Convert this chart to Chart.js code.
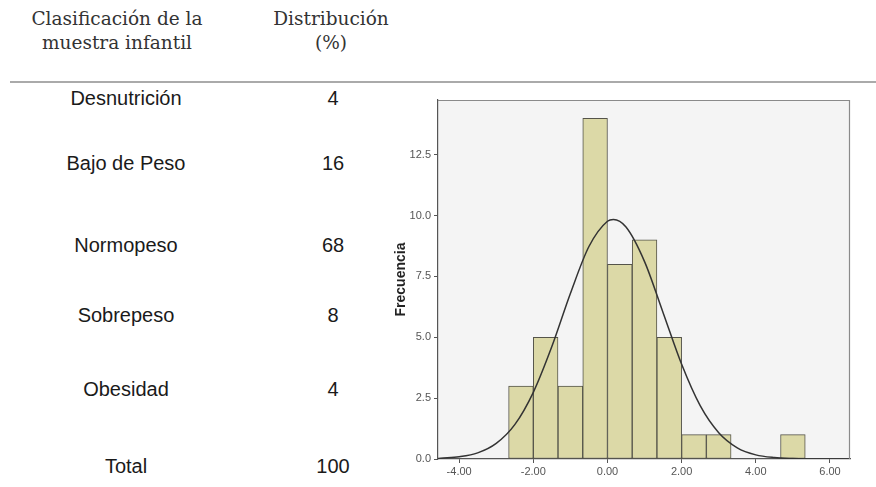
<!DOCTYPE html>
<html><head><meta charset="utf-8">
<script src="https://cdn.jsdelivr.net/npm/chart.js@4/dist/chart.umd.min.js"></script>
<style>
body{margin:0;width:876px;height:487px;background:#fff;position:relative;overflow:hidden;font-family:"Liberation Sans",Arial,sans-serif;}
.t{position:absolute;transform:translate(-50%,-50%);white-space:nowrap;color:#111;line-height:1;}
.h{font-family:"DejaVu Serif",serif;font-size:18.5px;color:#333;}
.r{font-size:20px;color:#1a1a1a;}
#rule{position:absolute;left:10px;top:81px;width:866px;height:2px;background:#aaa;}
#wrap{position:absolute;left:380px;top:85px;width:490px;height:402px;}
</style></head><body>
<div id="table"></div>
<div id="rule"></div>
<div id="wrap"><canvas id="c" width="490" height="402"></canvas></div>
<script>
// ---- data ----
const headerCol1 = ['Clasificación de la', 'muestra infantil'];
const headerCol2 = ['Distribución', '(%)'];
const tableCategories = ['Desnutrición', 'Bajo de Peso', 'Normopeso', 'Sobrepeso', 'Obesidad', 'Total'];
const tableValues = [4, 16, 68, 8, 4, 100];

const binCenters = [-2.333, -1.667, -1.0, -0.333, 0.333, 1.0, 1.667, 2.333, 3.0, 3.667, 4.333, 5.0];
const frequencies = [3, 5, 3, 14, 8, 9, 5, 1, 1, 0, 0, 1];

const curveX = [-4.57, -4.5, -4, -3.5, -3, -2.5, -2, -1.5, -1, -0.5, 0, 0.16, 0.5, 1, 1.5, 2, 2.5, 3, 3.5, 4, 4.5, 5, 5.5, 6, 6.54];
const curveY = [0.02, 0.03, 0.09, 0.25, 0.64, 1.41, 2.74, 4.62, 6.80, 8.73, 9.77, 9.84, 9.53, 8.11, 6.01, 3.89, 2.19, 1.08, 0.46, 0.17, 0.06, 0.02, 0.0, 0.0, 0.0];

const xTicks = [-4, -2, 0, 2, 4, 6];
const yTicks = [0, 2.5, 5, 7.5, 10, 12.5];
const yTitle = 'Frecuencia';

// ---- layout (table) ----
const col1X = 126, col2X = 333, hCol1X = 117, hCol2X = 331;
const headerY = [19, 43];
const rowY = [98, 163, 245, 315, 389, 466];
const tbl = document.getElementById('table');
function addText(txt, x, y, cls) {
  const d = document.createElement('div');
  d.className = 't ' + cls; d.textContent = txt;
  d.style.left = x + 'px'; d.style.top = y + 'px';
  tbl.appendChild(d);
}
headerCol1.forEach((s, i) => addText(s, hCol1X, headerY[i], 'h'));
headerCol2.forEach((s, i) => addText(s, hCol2X, headerY[i], 'h'));
tableCategories.forEach((s, i) => { addText(s, col1X, rowY[i], 'r'); addText(String(tableValues[i]), col2X, rowY[i], 'r'); });

// ---- chart ----
const boxPlugin = {
  id: 'box',
  beforeDraw(c) {
    const a = c.chartArea, ctx = c.ctx;
    ctx.save(); ctx.fillStyle = '#f4f4f4';
    ctx.fillRect(a.left, a.top, a.right - a.left, a.bottom - a.top); ctx.restore();
  },
  afterDraw(c) {
    const a = c.chartArea, ctx = c.ctx;
    ctx.save(); ctx.strokeStyle = '#8a8a8a'; ctx.lineWidth = 1.2;
    ctx.beginPath();
    ctx.moveTo(a.left, a.top + 0.5); ctx.lineTo(a.right - 0.5, a.top + 0.5); ctx.lineTo(a.right - 0.5, a.bottom);
    ctx.stroke(); ctx.restore();
  }
};
const tickFont = { family: '"Liberation Sans", Arial, sans-serif', size: 11 };
new Chart(document.getElementById('c'), {
  type: 'bar',
  data: {
    datasets: [
      {
        type: 'line', order: 0,
        data: curveX.map((x, i) => ({ x: x, y: curveY[i] })),
        borderColor: '#333', borderWidth: 1.5, pointRadius: 0, fill: false,
        cubicInterpolationMode: 'monotone'
      },
      {
        type: 'bar', order: 1,
        data: binCenters.map((x, i) => ({ x: x, y: frequencies[i] })),
        backgroundColor: '#dcd9a7', borderColor: '#55544a', borderWidth: 1,
        borderSkipped: false, barPercentage: 1, categoryPercentage: 1
      }
    ]
  },
  options: {
    responsive: false, animation: false, devicePixelRatio: 1,
    layout: { padding: { top: 15, right: 20, left: 0, bottom: 0 } },
    plugins: { legend: { display: false }, tooltip: { enabled: false } },
    scales: {
      x: {
        type: 'linear', min: -4.57, max: 6.54, offset: false,
        afterBuildTicks: s => { s.ticks = xTicks.map(v => ({ value: v })); },
        afterFit: s => { s.height = 28; },
        ticks: { callback: v => Number(v).toFixed(2), color: '#555', font: tickFont, padding: 2, maxRotation: 0 },
        grid: { drawOnChartArea: false, drawTicks: true, tickLength: 4, color: '#555', offset: false },
        border: { display: true, color: '#555', width: 1.2 }
      },
      y: {
        min: 0, max: 14.75,
        afterBuildTicks: s => { s.ticks = yTicks.map(v => ({ value: v })); },
        afterFit: s => { s.width = 58; },
        ticks: { callback: v => Number(v).toFixed(1), color: '#555', font: tickFont, padding: 3 },
        grid: { drawOnChartArea: false, drawTicks: true, tickLength: 4, color: '#555' },
        border: { display: true, color: '#555', width: 1.2 },
        title: { display: true, text: yTitle, color: '#222', font: { family: '"Liberation Sans", Arial, sans-serif', size: 14, weight: 'bold' }, padding: { top: 13, bottom: 0 } }
      }
    }
  },
  plugins: [boxPlugin]
});
</script>
</body></html>
